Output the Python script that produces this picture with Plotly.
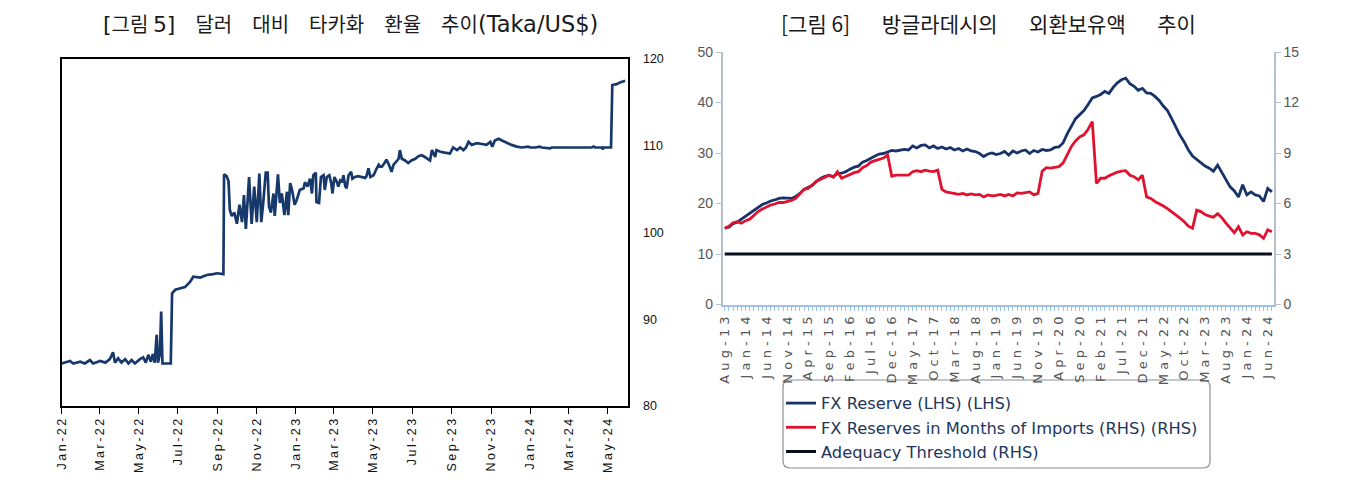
import plotly.graph_objects as go
import pandas as pd

# ---------------- Left chart: Taka per US$ ----------------
fx_dates = [
    "2022-01-01", "2022-01-14", "2022-01-19", "2022-01-30", "2022-02-06", "2022-02-14", "2022-02-19",
    "2022-03-02", "2022-03-10", "2022-03-17", "2022-03-22", "2022-03-25", "2022-03-30", "2022-04-04",
    "2022-04-10", "2022-04-15", "2022-04-20", "2022-04-25", "2022-05-03", "2022-05-08", "2022-05-12",
    "2022-05-16", "2022-05-20", "2022-05-23", "2022-05-26", "2022-05-29", "2022-05-31", "2022-06-03",
    "2022-06-05", "2022-06-07", "2022-06-20", "2022-06-22", "2022-06-27", "2022-07-04", "2022-07-12",
    "2022-07-20", "2022-07-25", "2022-08-05", "2022-08-15", "2022-08-25", "2022-08-31", "2022-09-10",
    "2022-09-11", "2022-09-15", "2022-09-18", "2022-09-20", "2022-09-23", "2022-09-27", "2022-10-01",
    "2022-10-05", "2022-10-09", "2022-10-12", "2022-10-15", "2022-10-20", "2022-10-24", "2022-10-28",
    "2022-11-01", "2022-11-05", "2022-11-08", "2022-11-11", "2022-11-15", "2022-11-18", "2022-11-20",
    "2022-11-23", "2022-11-27", "2022-11-29", "2022-12-04", "2022-12-07", "2022-12-10", "2022-12-14",
    "2022-12-18", "2022-12-20", "2022-12-23", "2022-12-26", "2022-12-30", "2023-01-02", "2023-01-05",
    "2023-01-07", "2023-01-13", "2023-01-15", "2023-01-19", "2023-01-23", "2023-01-26", "2023-01-28",
    "2023-02-01", "2023-02-02", "2023-02-06", "2023-02-09", "2023-02-13", "2023-02-15", "2023-02-18",
    "2023-02-22", "2023-02-25", "2023-02-27", "2023-03-02", "2023-03-06", "2023-03-08", "2023-03-11",
    "2023-03-14", "2023-03-16", "2023-03-19", "2023-03-21", "2023-03-24", "2023-03-28", "2023-03-30",
    "2023-04-03", "2023-04-08", "2023-04-14", "2023-04-19", "2023-04-21", "2023-04-24", "2023-04-27",
    "2023-05-02", "2023-05-07", "2023-05-10", "2023-05-12", "2023-05-15", "2023-05-19", "2023-05-22",
    "2023-05-26", "2023-05-30", "2023-06-02", "2023-06-04", "2023-06-10", "2023-06-12", "2023-06-15",
    "2023-06-20", "2023-06-25", "2023-06-30", "2023-07-06", "2023-07-11", "2023-07-16", "2023-07-21",
    "2023-07-26", "2023-07-29", "2023-08-01", "2023-08-03", "2023-08-06", "2023-08-08", "2023-08-14",
    "2023-08-21", "2023-08-29", "2023-09-03", "2023-09-09", "2023-09-14", "2023-09-19", "2023-09-23",
    "2023-09-27", "2023-10-02", "2023-10-10", "2023-10-18", "2023-10-25", "2023-10-31", "2023-11-03",
    "2023-11-07", "2023-11-13", "2023-11-18", "2023-11-26", "2023-12-03", "2023-12-11", "2023-12-19",
    "2023-12-29", "2024-01-01", "2024-01-09", "2024-01-16", "2024-01-19", "2024-02-01", "2024-02-04",
    "2024-04-06", "2024-04-09", "2024-04-11", "2024-04-22", "2024-04-23", "2024-04-25", "2024-05-06",
    "2024-05-08", "2024-05-15", "2024-05-20", "2024-05-28",
]
fx_rates = [
    84.9, 85.2, 84.9, 85.1, 84.9, 85.3, 84.9,
    85.2, 85.0, 85.4, 86.2, 85.0, 85.5, 85.0,
    85.4, 84.9, 85.3, 84.9, 85.4, 85.6, 85.0,
    85.9, 85.1, 86.0, 85.0, 88.2, 85.0, 86.0,
    90.9, 84.9, 84.9, 93.0, 93.4, 93.5, 93.7,
    94.3, 94.9, 94.8, 95.1, 95.2, 95.3, 95.2,
    106.7, 106.5, 105.9, 102.6, 101.9, 102.3, 101.0,
    103.2, 101.2, 104.3, 100.4, 106.4, 101.0, 105.3,
    101.2, 106.8, 101.2, 103.4, 106.9, 106.9, 103.0,
    102.3, 104.5, 101.9, 106.7, 103.4, 104.5, 102.0,
    104.7, 102.0, 105.7, 104.9, 103.2, 103.7, 104.3,
    104.9, 105.1, 105.8, 105.3, 106.2, 104.5, 106.6,
    106.9, 103.5, 103.4, 106.4, 106.6, 104.9, 106.4,
    106.6, 105.7, 104.5, 106.4, 105.8, 105.3, 106.0,
    105.8, 106.6, 105.3, 105.1, 106.6, 107.0, 106.2,
    106.4, 106.5, 106.4, 106.3, 106.5, 107.4, 106.4,
    106.6, 107.4, 107.8, 107.6, 107.6, 108.0, 108.4,
    107.8, 107.0, 107.8, 108.0, 108.5, 109.5, 108.5,
    108.3, 108.0, 108.3, 108.5, 108.8, 108.9, 108.7,
    108.5, 108.3, 109.5, 109.1, 108.7, 109.5, 109.3,
    109.2, 109.1, 109.8, 109.5, 109.8, 109.5, 109.8,
    110.45, 110.1, 110.3, 110.2, 110.1, 110.45, 109.9,
    110.6, 110.8, 110.6, 110.3, 110.1, 109.9, 109.8,
    109.9, 109.8, 109.8, 109.9, 109.8, 109.7, 109.8,
    109.8, 109.9, 109.8, 109.8, 109.6, 109.8, 109.8,
    117.0, 117.1, 117.3, 117.5,
]
fx_tick_dates = pd.date_range("2022-01-01", "2024-05-01", freq="2MS")

# ---------------- Right chart: Bangladesh FX reserves ----------------
res_months = [d.strftime("%b-%y") for d in pd.date_range("2013-08-01", periods=132, freq="MS")]
fx_reserve_bn = [
    15.1, 15.3, 16.0, 16.3, 16.9, 17.5, 18.0, 18.6, 19.2, 19.8,
    20.1, 20.5, 20.7, 21.0, 21.1, 21.1, 21.0, 21.4, 22.0, 22.8,
    23.2, 23.6, 24.4, 25.0, 25.4, 25.6, 25.3, 25.9, 26.0, 26.3,
    26.8, 27.2, 27.4, 28.2, 28.5, 29.0, 29.4, 29.8, 29.9, 30.2,
    30.5, 30.4, 30.5, 30.7, 30.6, 31.4, 31.0, 31.5, 31.6, 31.0,
    31.4, 30.9, 31.2, 30.8, 31.1, 30.6, 30.9, 30.4, 30.8, 30.4,
    30.3, 29.9, 29.3, 29.8, 30.0, 29.7, 29.9, 30.3, 29.6, 30.4,
    30.0, 30.4, 30.6, 29.9, 30.5, 30.2, 30.7, 30.5, 30.6, 31.1,
    31.2, 32.0, 33.8, 35.4, 36.8, 37.6, 38.4, 39.6, 40.9, 41.2,
    41.6, 42.2, 41.8, 43.0, 43.9, 44.5, 44.8, 43.7, 43.2, 42.4,
    42.8, 41.9, 41.8, 41.2, 40.4, 39.3, 38.4, 36.8, 35.0, 33.5,
    32.2, 30.6, 29.4, 28.7, 28.1, 27.4, 27.0, 26.4, 27.6, 26.2,
    24.8, 23.3, 22.5, 21.3, 23.7, 21.7, 22.3, 21.7, 21.5, 20.4,
    23.0, 22.3,
]
import_months = [
    4.53, 4.65, 4.86, 4.92, 4.83, 4.98, 5.07, 5.31, 5.52, 5.67,
    5.79, 5.91, 5.97, 6.06, 6.06, 6.12, 6.18, 6.30, 6.60, 6.84,
    6.90, 7.11, 7.32, 7.44, 7.56, 7.68, 7.56, 7.89, 7.50, 7.62,
    7.71, 7.83, 7.89, 8.13, 8.25, 8.46, 8.55, 8.64, 8.70, 8.88,
    7.62, 7.68, 7.68, 7.65, 7.68, 7.89, 7.95, 7.89, 7.98, 7.92,
    7.89, 7.98, 6.84, 6.69, 6.63, 6.60, 6.54, 6.60, 6.51, 6.57,
    6.51, 6.54, 6.39, 6.51, 6.45, 6.48, 6.54, 6.45, 6.54, 6.45,
    6.63, 6.60, 6.66, 6.69, 6.51, 6.60, 7.92, 8.13, 8.10, 8.16,
    8.19, 8.40, 8.88, 9.39, 9.72, 9.96, 10.08, 10.41, 10.86, 7.20,
    7.50, 7.50, 7.65, 7.77, 7.86, 7.92, 7.95, 7.68, 7.59, 7.41,
    7.68, 6.39, 6.30, 6.12, 6.00, 5.85, 5.70, 5.52, 5.34, 5.13,
    4.92, 4.65, 4.53, 5.61, 5.52, 5.34, 5.25, 5.19, 5.40, 5.16,
    4.83, 4.53, 4.26, 4.62, 4.14, 4.32, 4.23, 4.23, 4.14, 3.93,
    4.44, 4.32,
]
threshold_months = [3.0, 3.0]
threshold_x = [res_months[0], res_months[-1]]

# ---------------- Figure ----------------
# The page body keeps its default 8px margin, so the figure is drawn 8px in.
PAGE_W, PAGE_H, BODY = 1367, 480, 8
W, H = PAGE_W - 2 * BODY, PAGE_H - 2 * BODY


def px_x(p):
    return (p - BODY) / W


def px_y(p):
    return (H - (p - BODY)) / H


def spaced(s, sep):
    return sep.join(list(s))


fig = go.Figure()

fig.add_trace(go.Scatter(
    x=pd.to_datetime(fx_dates), y=fx_rates, mode="lines",
    line=dict(color="#17386b", width=2.7), xaxis="x", yaxis="y", showlegend=False,
))

fig.add_trace(go.Scatter(
    x=res_months, y=fx_reserve_bn, mode="lines", name="FX Reserve (LHS) (LHS)",
    line=dict(color="#17336a", width=2.8), xaxis="x2", yaxis="y2", legendgroup="a",
))
fig.add_trace(go.Scatter(
    x=res_months, y=import_months, mode="lines",
    name="FX Reserves in Months of Imports (RHS) (RHS)",
    line=dict(color="#e01230", width=2.8), xaxis="x2", yaxis="y3", legendgroup="b",
))
fig.add_trace(go.Scatter(
    x=threshold_x, y=threshold_months, mode="lines", name="Adequacy Threshold (RHS)",
    line=dict(color="#0b0f1e", width=3), xaxis="x2", yaxis="y3", legendgroup="c",
))

axis_blue = "#9cc3e6"
axis_grey = "#b4c0cc"
thin = "\u2009"

fig.update_layout(
    width=W, height=H,
    margin=dict(l=0, r=0, t=0, b=0, autoexpand=False),
    paper_bgcolor="white", plot_bgcolor="white",
    xaxis=dict(
        domain=[px_x(61.7), px_x(627.7)], type="date", automargin=False,
        range=["2022-01-01", "2024-06-01"],
        tickvals=list(fx_tick_dates),
        ticktext=[spaced(d.strftime("%b-%y"), thin) for d in fx_tick_dates],
        tickangle=-90, ticks="outside", ticklen=6, tickcolor="black", tickwidth=1.3,
        showline=True, linecolor="black", linewidth=1.5, mirror=True,
        showgrid=False, zeroline=False, anchor="y",
        tickfont=dict(family="Liberation Sans, Arial", size=12.5, color="#111"),
    ),
    yaxis=dict(
        domain=[px_y(406), px_y(59)], range=[80, 120], dtick=10, side="right",
        automargin=False,
        showline=True, linecolor="black", linewidth=1.5, mirror=True,
        showgrid=False, zeroline=False, ticks="outside", ticklen=11,
        tickcolor="rgba(0,0,0,0)", anchor="x",
        tickfont=dict(family="Liberation Sans, Arial", size=12.5, color="#111"),
    ),
    xaxis2=dict(
        domain=[px_x(722.6), px_x(1274)], type="category", range=[-0.5, 131.5],
        automargin=False,
        tickvals=res_months,
        ticktext=[spaced(m, " ") if i % 5 == 0 else "" for i, m in enumerate(res_months)],
        tickangle=-90, ticks="outside", ticklen=5, tickcolor=axis_blue, tickwidth=1,
        showline=True, linecolor=axis_blue, linewidth=1.5,
        showgrid=False, zeroline=False, anchor="y2",
        tickfont=dict(family="DejaVu Sans, Verdana", size=13, color="#555"),
    ),
    yaxis2=dict(
        domain=[px_y(304.5), px_y(52)], range=[0, 50], dtick=10, automargin=False,
        showline=True, linecolor=axis_grey, linewidth=1.5,
        ticks="outside", ticklen=5, tickcolor=axis_grey,
        showgrid=False, zeroline=False, anchor="x2",
        tickfont=dict(family="Liberation Sans, Arial", size=14, color="#555"),
    ),
    yaxis3=dict(
        domain=[px_y(304.5), px_y(52)], range=[0, 15], dtick=3, automargin=False,
        overlaying="y2", side="right",
        showline=True, linecolor=axis_grey, linewidth=1.5,
        ticks="outside", ticklen=5, tickcolor=axis_grey,
        showgrid=False, zeroline=False, anchor="x2",
        tickfont=dict(family="Liberation Sans, Arial", size=14, color="#555"),
    ),
    legend=dict(
        x=px_x(781), y=px_y(386), xanchor="left", yanchor="top",
        bgcolor="rgba(0,0,0,0)", borderwidth=0, tracegroupgap=0, itemwidth=30,
        traceorder="grouped",
        font=dict(family="DejaVu Sans", size=16.3, color="#22365c"),
    ),
    showlegend=True,
)

# rounded legend frame
x0, x1, y0, y1, r = px_x(783), px_x(1210), px_y(468), px_y(380), 7
rx, ry = r / W, r / H
frame = (
    f"M {x0 + rx},{y0} L {x1 - rx},{y0} Q {x1},{y0} {x1},{y0 + ry} "
    f"L {x1},{y1 - ry} Q {x1},{y1} {x1 - rx},{y1} L {x0 + rx},{y1} "
    f"Q {x0},{y1} {x0},{y1 - ry} L {x0},{y0 + ry} Q {x0},{y0} {x0 + rx},{y0} Z"
)
fig.add_shape(type="path", path=frame, xref="paper", yref="paper",
              line=dict(color="#8a8f96", width=1.2), fillcolor="rgba(0,0,0,0)", layer="below")


def latin(s, size):
    return f"<span style='font-family:DejaVu Sans;font-size:{size}px'>{s}</span>"


wide_gap = "\u3000"
fig.add_annotation(
    text=(f"{latin('[', 22)}그림 {latin('5]', 22)}{wide_gap}달러{wide_gap}대비{wide_gap}타카화"
          f"{wide_gap}환율{wide_gap}추이{latin('(Taka/US$)', 22.5)}"),
    x=px_x(350), y=px_y(23), xref="paper", yref="paper", showarrow=False,
    xanchor="center", yanchor="middle",
    font=dict(family="Noto Sans CJK KR", size=20, color="#1a1a1a"),
)
right_gap = "\u3000\u2002"
fig.add_annotation(
    text=f"[그림 6]{right_gap}방글라데시의{right_gap}외환보유액{right_gap}추이",
    x=px_x(988), y=px_y(23), xref="paper", yref="paper", showarrow=False,
    xanchor="center", yanchor="middle",
    font=dict(family="Noto Sans CJK KR", size=21, color="#1a1a1a"),
)

fig.write_html("out.html")
